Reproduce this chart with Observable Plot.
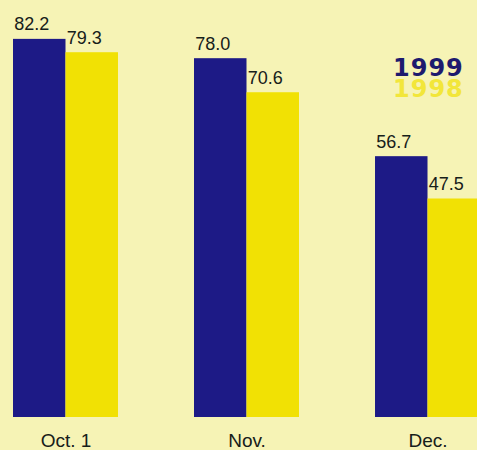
<!DOCTYPE html>
<html>
<head>
<meta charset="utf-8">
<script src="https://cdn.jsdelivr.net/npm/d3@7"></script>
<script src="https://cdn.jsdelivr.net/npm/@observablehq/plot@0.6"></script>
<style>
  html, body { margin: 0; padding: 0; background: #f6f3b5; overflow: hidden; }
  #wrap { position: relative; width: 477px; height: 450px; }
  #legend { position: absolute; left: 393px; top: 58px; font-family: "DejaVu Sans", sans-serif; font-weight: bold; font-size: 24px; line-height: 21px; letter-spacing: 1px; }
  #legend div { height: 21px; overflow: visible; }
</style>
</head>
<body>
<div id="wrap">
  <div id="chart"></div>
  <div id="legend"></div>
</div>
<script>
const months = ["Oct. 1", "Nov.", "Dec."];
const years = ["1999", "1998"];
const values1999 = [82.2, 78.0, 56.7];
const values1998 = [79.3, 70.6, 47.5];
const colors = ["#1d1a86", "#f1e104"];
const legendColors = ["#1d1a6e", "#f2e63a"];

const data = months.flatMap((m, i) => [
  {month: m, year: years[0], value: values1999[i]},
  {month: m, year: years[1], value: values1998[i]}
]);

const chart = Plot.plot({
  width: 477,
  height: 450,
  marginTop: 0,
  marginBottom: 33,
  marginLeft: 13,
  marginRight: -3,
  style: {background: "transparent", fontFamily: "'Liberation Sans', Arial, sans-serif"},
  fx: {domain: months, paddingInner: 0.42, paddingOuter: 0, round: false, label: null},
  x: {domain: years, padding: 0, round: false, axis: null},
  y: {domain: [0, 90.65], axis: null},
  color: {domain: years, range: colors},
  marks: [
    Plot.barY(data, {fx: "month", x: "year", y: "value", fill: "year"}),
    Plot.text(data, {fx: "month", x: "year", y: "value", text: d => d.value.toFixed(1),
      lineAnchor: "bottom", dy: -9, dx: -8, fontSize: 18, fill: "#16201a"}),
    Plot.axisFx({anchor: "bottom", tickSize: 0, tickPadding: 16, fontSize: 19, fill: "#16201a", label: null})
  ]
});
document.getElementById("chart").appendChild(chart);

const legend = document.getElementById("legend");
years.forEach((y, i) => {
  const d = document.createElement("div");
  d.textContent = y;
  d.style.color = legendColors[i];
  legend.appendChild(d);
});
</script>
</body>
</html>
